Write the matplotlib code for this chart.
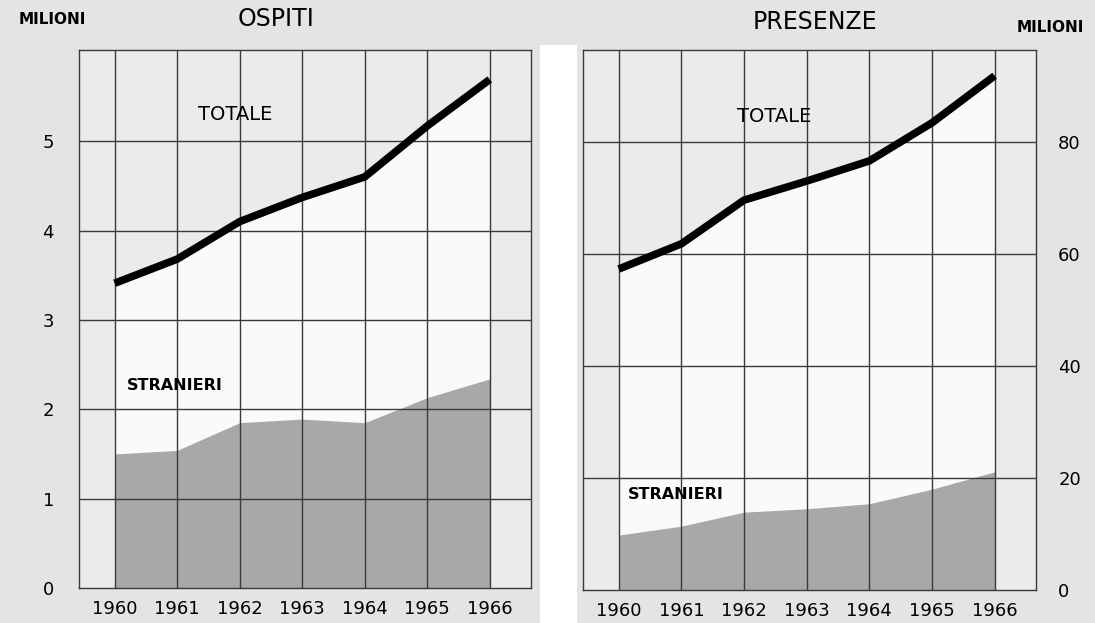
import matplotlib
matplotlib.use("Agg")
import matplotlib.pyplot as plt
from matplotlib.patches import Rectangle

years = [1960, 1961, 1962, 1963, 1964, 1965, 1966]
ospiti_totale = [3.41, 3.68, 4.10, 4.37, 4.60, 5.17, 5.69]
ospiti_stranieri = [1.50, 1.54, 1.85, 1.89, 1.85, 2.13, 2.34]
presenze_totale = [57.3, 61.8, 69.6, 73.0, 76.6, 83.4, 91.8]
presenze_stranieri = [9.8, 11.4, 13.9, 14.5, 15.4, 18.0, 21.1]
left_ticks = [0, 1, 2, 3, 4, 5]
right_ticks = [0, 20, 40, 60, 80]

FONT = "DejaVu Sans"
plt.rcParams['font.family'] = [FONT]

fig = plt.figure(figsize=(10.95, 6.23), dpi=100)
fig.patch.set_facecolor("#e4e4e4")

# white separating band between panels
fig.patches.append(Rectangle((540/1095, 0.0), 37/1095, 1 - 45/623,
                             transform=fig.transFigure, facecolor="white",
                             edgecolor="none", zorder=0))

axL = fig.add_axes([79/1095, 1 - 588/623, 452/1095, 538/623])
axR = fig.add_axes([583/1095, 1 - 590/623, 453/1095, 540/623])

def style(ax, tot, stra, ylim, ticks, right=False):
    ax.set_facecolor("#ebebeb")
    ax.fill_between(years, 0, tot, color="#fafafa", zorder=1, linewidth=0)
    ax.fill_between(years, 0, stra, color="#a8a8a8", zorder=2, linewidth=0)
    for y in ticks[1:]:
        ax.axhline(y, color="#3a3a3a", lw=1.0, zorder=3)
    for x in years:
        ax.axvline(x, color="#3a3a3a", lw=1.0, zorder=3)
    ax.plot(years, tot, color="black", lw=5.5, zorder=4, solid_capstyle="butt")
    ax.set_xlim(1959.43, 1966.66)
    ax.set_ylim(*ylim)
    ax.set_yticks(ticks)
    ax.set_yticklabels([str(t) for t in ticks], fontsize=13)
    ax.set_xticks(years)
    ax.set_xticklabels([str(y) for y in years], fontsize=13)
    ax.tick_params(length=0)
    ax.tick_params(axis="x", pad=9)
    if right:
        ax.yaxis.tick_right()
    for s in ax.spines.values():
        s.set_color("#3a3a3a")
        s.set_linewidth(1.0)

style(axL, ospiti_totale, ospiti_stranieri, (0, 6.02), left_ticks)
style(axR, presenze_totale, presenze_stranieri, (0, 96.4), right_ticks, right=True)
axL.tick_params(axis="y", pad=18)
axR.tick_params(axis="y", pad=16)

axL.text(1961.93, 5.30, "TOTALE", ha="center", va="center", fontsize=14, zorder=5)
axL.text(1960.97, 2.27, "STRANIERI", ha="center", va="center", fontsize=11.5,
         weight="bold", zorder=5)
axR.text(1962.48, 84.6, "TOTALE", ha="center", va="center", fontsize=14, zorder=5)
axR.text(1960.91, 17.1, "STRANIERI", ha="center", va="center", fontsize=11.5,
         weight="bold", zorder=5)

fig.text(52/1095, 1 - 20/623, "MILIONI", ha="center", va="center", fontsize=11, weight="bold")
fig.text(276/1095, 1 - 19/623, "OSPITI", ha="center", va="center", fontsize=17)
fig.text(815/1095, 1 - 22/623, "PRESENZE", ha="center", va="center", fontsize=17)
fig.text(1050/1095, 1 - 28/623, "MILIONI", ha="center", va="center", fontsize=11, weight="bold")

fig.savefig("out.png", dpi=100, facecolor=fig.get_facecolor())
